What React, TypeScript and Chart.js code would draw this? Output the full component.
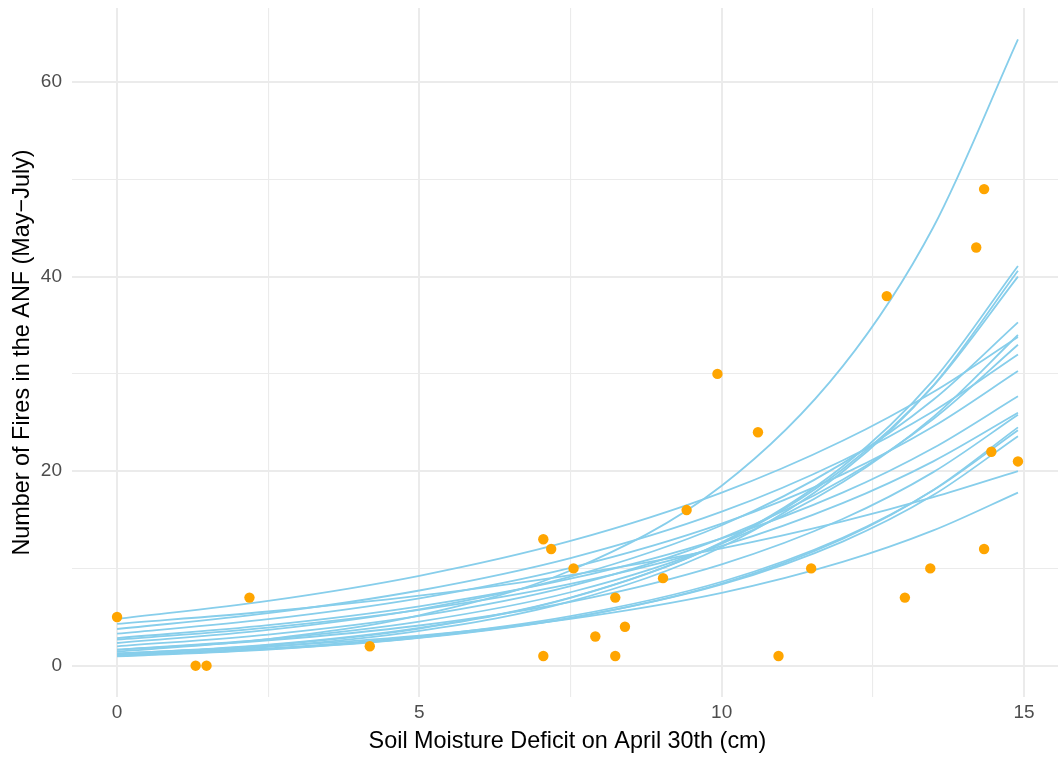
import React, { useEffect, useRef } from "react";
import { Chart, registerables } from "chart.js";

Chart.register(...registerables);

const curveX = [0, 2.5, 5, 7.5, 10, 12, 13.5, 14.9];

// Fitted curves (expected number of fires), one list per draw
const curveDraws: number[][] = [
  [1.45, 2.74, 5.18, 9.79, 18.5, 30.77, 45.08, 64.4],
  [1.15, 2.1, 3.82, 6.96, 12.68, 20.48, 29.36, 41.1],
  [1.05, 1.94, 3.58, 6.61, 12.2, 19.94, 28.8, 40.6],
  [1.2, 2.16, 3.89, 7.01, 12.62, 20.2, 28.76, 40.0],
  [0.96, 1.65, 2.85, 4.9, 8.44, 13.04, 18.07, 24.5],
  [1.0, 1.7, 2.89, 4.91, 8.35, 12.76, 17.54, 23.6],
  [1.05, 1.78, 3.01, 5.1, 8.63, 13.15, 18.03, 24.2],
  [1.28, 1.99, 3.1, 4.82, 7.49, 10.67, 13.91, 17.8],
  [4.3, 5.57, 7.2, 9.32, 12.07, 14.84, 17.32, 20.0],
  [4.8, 6.66, 9.24, 12.82, 17.79, 23.12, 28.14, 33.8],
  [3.77, 5.4, 7.73, 11.06, 15.83, 21.1, 26.16, 32.0],
  [3.29, 4.78, 6.93, 10.06, 14.6, 19.67, 24.59, 30.3],
  [2.84, 4.16, 6.1, 8.94, 13.1, 17.79, 22.38, 27.7],
  [2.67, 3.91, 5.73, 8.4, 12.31, 16.71, 21.01, 26.0],
  [2.33, 3.68, 5.8, 9.15, 14.44, 20.8, 27.34, 35.3],
  [1.99, 3.19, 5.11, 8.18, 13.11, 19.11, 25.36, 33.0],
  [1.64, 2.73, 4.54, 7.55, 12.55, 18.85, 25.58, 34.0],
  [1.64, 2.6, 4.13, 6.56, 10.42, 15.08, 19.9, 25.8],
];

// Observed years
const pointX = [0, 1.3, 1.48, 2.19, 4.18, 7.05, 7.05, 7.18, 7.55, 7.91, 8.24, 8.24, 8.4, 9.03, 9.42, 9.93, 10.6, 10.94, 11.48, 12.73, 13.03, 13.45, 14.21, 14.34, 14.34, 14.46, 14.9];
const pointY = [5, 0, 0, 7, 2, 13, 1, 12, 10, 3, 7, 1, 4, 9, 16, 30, 24, 1, 10, 38, 7, 10, 43, 49, 12, 22, 21];

// Axis ticks
const xMajorTicks = [0, 5, 10, 15];
const xAllTicks = [0, 2.5, 5, 7.5, 10, 12.5, 15];
const yMajorTicks = [0, 20, 40, 60];
const yAllTicks = [0, 10, 20, 30, 40, 50, 60];

const FONT = "'Liberation Sans', Arial, Helvetica, sans-serif";

export default function App() {
  const ref = useRef<HTMLCanvasElement | null>(null);

  useEffect(() => {
    document.body.style.margin = "0";
    const canvas = ref.current;
    if (!canvas) return;

    const datasets: any[] = [
      {
        label: "Observed",
        data: pointX.map((x, i) => ({ x, y: pointY[i] })),
        backgroundColor: "#FFA500",
        borderColor: "#FFA500",
        pointRadius: 5.2,
        pointBorderWidth: 0,
        pointHoverRadius: 5.2,
        showLine: false,
        order: 0,
      },
      ...curveDraws.map((vals, k) => ({
        label: `Draw ${k + 1}`,
        data: curveX.map((x, i) => ({ x, y: vals[i] })),
        showLine: true,
        borderColor: "#87CEEB",
        backgroundColor: "#87CEEB",
        borderWidth: 1.8,
        pointRadius: 0,
        pointHoverRadius: 0,
        cubicInterpolationMode: "monotone",
        fill: false,
        order: 1,
      })),
    ];

    const chart = new Chart(canvas, {
      type: "scatter",
      data: { datasets },
      options: {
        animation: false,
        responsive: false,
        maintainAspectRatio: false,
        layout: { autoPadding: false, padding: { top: 8, right: 1, left: 0, bottom: 0 } },
        plugins: { legend: { display: false }, tooltip: { enabled: false } },
        scales: {
          x: {
            type: "linear",
            min: -0.745,
            max: 15.645,
            afterBuildTicks: (s: any) => {
              s.ticks = xAllTicks.map((v) => ({ value: v }));
            },
            afterFit: (s: any) => {
              s.height = 60;
              s.paddingLeft = 0;
              s.paddingRight = 0;
            },
            ticks: {
              autoSkip: false,
              maxRotation: 0,
              padding: 4,
              color: "#4D4D4D",
              font: { family: FONT, size: 19 },
              callback: (v: any) => (xMajorTicks.includes(Number(v)) ? String(v) : ""),
            },
            grid: {
              drawTicks: false,
              color: "#EBEBEB",
              lineWidth: (ctx: any) => (ctx.tick && xMajorTicks.includes(ctx.tick.value) ? 2 : 1.1),
            },
            border: { display: false },
            title: {
              display: true,
              text: "Soil Moisture Deficit on April 30th (cm)",
              color: "#000000",
              font: { family: FONT, size: 23.4 },
              padding: { top: 0, bottom: 1 },
            },
          },
          y: {
            type: "linear",
            min: -3.22,
            max: 67.62,
            afterBuildTicks: (s: any) => {
              s.ticks = yAllTicks.map((v) => ({ value: v }));
            },
            afterFit: (s: any) => {
              s.width = 72;
              s.paddingTop = 0;
              s.paddingBottom = 0;
            },
            ticks: {
              autoSkip: false,
              padding: 10,
              color: "#4D4D4D",
              font: { family: FONT, size: 19 },
              callback: (v: any) => (yMajorTicks.includes(Number(v)) ? String(v) : ""),
            },
            grid: {
              drawTicks: false,
              color: "#EBEBEB",
              lineWidth: (ctx: any) => (ctx.tick && yMajorTicks.includes(ctx.tick.value) ? 2 : 1.1),
            },
            border: { display: false },
            title: {
              display: true,
              text: "Number of Fires in the ANF (May\u2212July)",
              color: "#000000",
              font: { family: FONT, size: 23.4 },
              padding: { top: 9, bottom: 0 },
            },
          },
        },
      },
    } as any);

    return () => chart.destroy();
  }, []);

  return (
    <div
      style={{
        position: "fixed",
        left: 0,
        top: 0,
        width: 1058,
        height: 757,
        overflow: "hidden",
        background: "#FFFFFF",
      }}
    >
      <canvas ref={ref} width={1064} height={757} style={{ display: "block", width: 1064, height: 757 }} />
    </div>
  );
}
